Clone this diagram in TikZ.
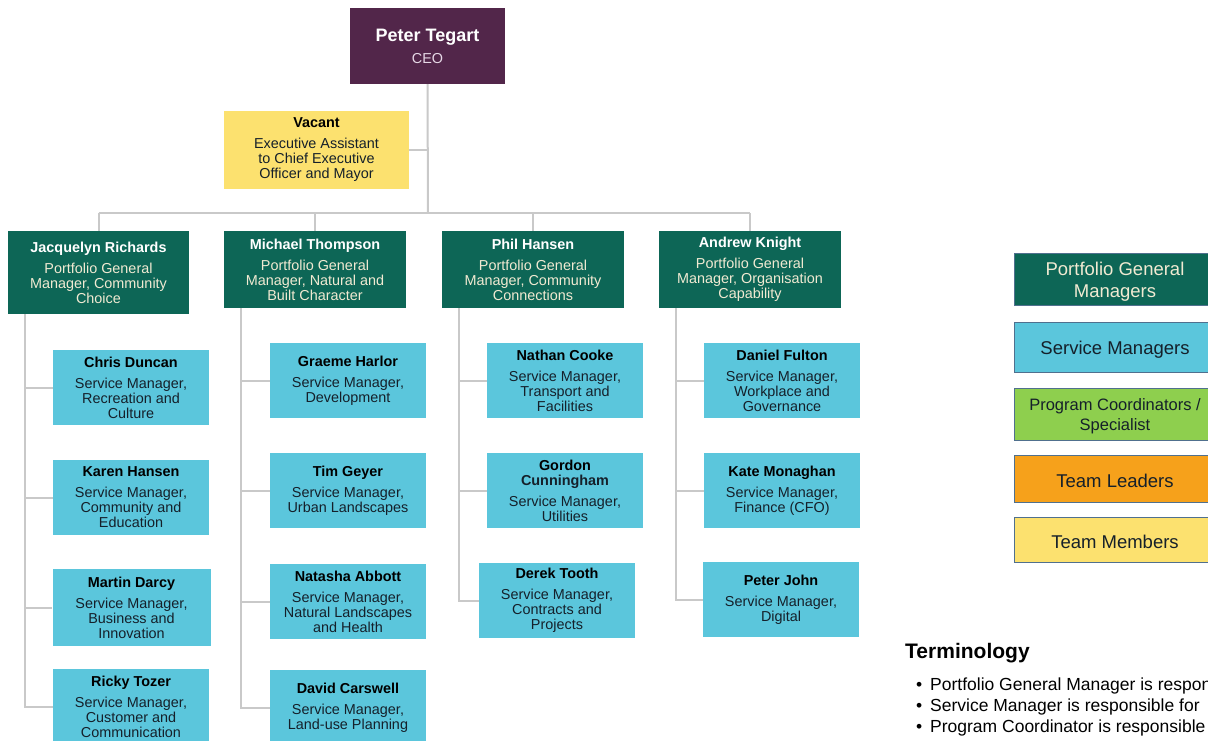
\documentclass[tikz,border=0pt]{standalone}
\usepackage{fontspec}
\setmainfont{Liberation Sans}
\definecolor{ceoc}{HTML}{52264A}
\definecolor{pgmc}{HTML}{0D6656}
\definecolor{smc}{HTML}{5BC6DC}
\definecolor{yelc}{HTML}{FCE16F}
\definecolor{pcc}{HTML}{8ECF4E}
\definecolor{tlc}{HTML}{F6A11B}
\definecolor{linec}{HTML}{C9C9C9}
\definecolor{cream}{HTML}{F1EAD2}
\definecolor{lav}{HTML}{E6D8E6}
\definecolor{smtext}{HTML}{15202A}
\definecolor{legbord}{HTML}{50708E}
\newcommand\nm[1]{\textbf{#1}}
\tikzset{
  bx/.style 2 args={rectangle, minimum width=#1, minimum height=#2, inner sep=0pt, align=center, anchor=center,
    font=\fontsize{14.4}{15}\selectfont},
  ceobox/.style={fill=ceoc, text=lav},
  pgmbox/.style={fill=pgmc, text=cream},
  smbox/.style={fill=smc, text=smtext},
  vacbox/.style={fill=yelc, text=smtext},
  conn/.style={draw=linec, line width=2pt},
  legbox/.style={rectangle, minimum width=202, inner sep=0pt, anchor=center, draw=legbord, line width=1pt},
  legtext/.style={inner sep=0pt, align=center, anchor=center, font=\fontsize{18.5}{22}\selectfont},
}
\begin{document}
\begin{tikzpicture}[x=1pt,y=-1pt]
\useasboundingbox (0,0) rectangle (1208,740);
\clip (0,0) rectangle (1208,740);
\fill[white] (0,0) rectangle (1208,740);

% top
\node[bx={155}{76}, ceobox] (ceo) at (427.5,46) {{\fontsize{18}{20}\selectfont\color{white}\nm{Peter Tegart}}\\[7pt]CEO};
\node[bx={185}{78}, vacbox] (vac) at (316.5,150) {\color{black}\nm{Vacant}\\[6pt]Executive Assistant\\to Chief Executive\\Officer and Mayor};

% portfolio general managers
\node[bx={181}{83}, pgmbox] (jr) at (98.5,272.5) {\color{white}\nm{Jacquelyn Richards}\\[6pt]Portfolio General\\Manager, Community\\Choice};
\node[bx={182}{77}, pgmbox] (mt) at (315,269.5) {\color{white}\nm{Michael Thompson}\\[6pt]Portfolio General\\Manager, Natural and\\Built Character};
\node[bx={182}{77}, pgmbox] (ph) at (533,269.5) {\color{white}\nm{Phil Hansen}\\[6pt]Portfolio General\\Manager, Community\\Connections};
\node[bx={182}{77}, pgmbox] (ak) at (750,269.5) {\color{white}\nm{Andrew Knight}\\[6pt]Portfolio General\\Manager, Organisation\\Capability};

% column 1
\node[bx={156}{75}, smbox] (cd) at (131,387.5) {\color{black}\nm{Chris Duncan}\\[6pt]Service Manager,\\Recreation and\\Culture};
\node[bx={156}{75}, smbox] (kh) at (131,497.5) {\color{black}\nm{Karen Hansen}\\[6pt]Service Manager,\\Community and\\Education};
\node[bx={158}{77}, smbox] (md) at (131.5,607.5) {\color{black}\nm{Martin Darcy}\\[6pt]Service Manager,\\Business and\\Innovation};
\node[bx={156}{75}, smbox] (rt) at (131,706.5) {\color{black}\nm{Ricky Tozer}\\[6pt]Service Manager,\\Customer and\\Communication};

% column 2
\node[bx={156}{75}, smbox] (gh) at (348,380.5) {\color{black}\nm{Graeme Harlor}\\[6pt]Service Manager,\\Development};
\node[bx={156}{75}, smbox] (tg) at (348,490.5) {\color{black}\nm{Tim Geyer}\\[6pt]Service Manager,\\Urban Landscapes};
\node[bx={156}{75}, smbox] (na) at (348,601.5) {\color{black}\nm{Natasha Abbott}\\[6pt]Service Manager,\\Natural Landscapes\\and Health};
\node[bx={156}{75}, smbox] (dc) at (348,707.5) {\color{black}\nm{David Carswell}\\[6pt]Service Manager,\\Land-use Planning};

% column 3
\node[bx={156}{75}, smbox] (nc) at (565,380.5) {\color{black}\nm{Nathan Cooke}\\[6pt]Service Manager,\\Transport and\\Facilities};
\node[bx={156}{75}, smbox] (gc) at (565,490.5) {\color{black}\nm{Gordon}\\\nm{Cunningham}\\[6pt]Service Manager,\\Utilities};
\node[bx={156}{75}, smbox] (dt) at (557,600.5) {\color{black}\nm{Derek Tooth}\\[6pt]Service Manager,\\Contracts and\\Projects};

% column 4
\node[bx={156}{75}, smbox] (df) at (782,380.5) {\color{black}\nm{Daniel Fulton}\\[6pt]Service Manager,\\Workplace and\\Governance};
\node[bx={156}{75}, smbox] (km) at (782,490.5) {\color{black}\nm{Kate Monaghan}\\[6pt]Service Manager,\\Finance (CFO)};
\node[bx={156}{75}, smbox] (pj) at (781,599.5) {\color{black}\nm{Peter John}\\[6pt]Service Manager,\\Digital};

% connectors
\coordinate (hbar) at (428,213);
\draw[conn] (ceo.south) -- (hbar);
\draw[conn] (vac.east) -- (vac.east -| ceo.south);
\draw[conn] (jr.north |- hbar) -- (ak.north |- hbar);
\foreach \p in {jr,mt,ph,ak} { \draw[conn] (\p.north |- hbar) -- (\p.north); }
\foreach \p/\c in {jr/cd,jr/kh,jr/md,jr/rt,mt/gh,mt/tg,mt/na,mt/dc,ph/nc,ph/gc,ph/dt,ak/df,ak/km,ak/pj} {
  \draw[conn] ([xshift=17pt]\p.south west) |- (\c.west);
}

% legend
\node[legbox, minimum height=52, fill=pgmc] (lpgm) at (1115,279) {};
\node[legtext, text=cream] (lpgmt) at ([yshift=-3pt]lpgm.center) {Portfolio General\\Managers};
\node[legbox, minimum height=50, fill=smc] (lsm) at (1115,347.5) {};
\node[legtext, text=smtext] (lsmt) at ([yshift=-2pt]lsm.center) {Service Managers};
\node[legbox, minimum height=52, fill=pcc] (lpc) at (1115,414) {};
\node[legtext, text=smtext, font=\fontsize{16.5}{20}\selectfont] (lpct) at ([yshift=-2.5pt]lpc.center) {Program Coordinators /\\Specialist};
\node[legbox, minimum height=47, fill=tlc] (ltl) at (1115,478.5) {};
\node[legtext, text=smtext] (ltlt) at ([yshift=-2pt]ltl.center) {Team Leaders};
\node[legbox, minimum height=45, fill=yelc] (ltm) at (1115,539.5) {};
\node[legtext, text=smtext] (ltmt) at ([yshift=-2pt]ltm.center) {Team Members};

% terminology
\node[anchor=base west, inner sep=0pt, font=\fontsize{21}{24}\selectfont\bfseries] (term) at (905,658) {Terminology};
\node[anchor=base west, inner sep=0pt, font=\fontsize{17.5}{21}\selectfont] (t1) at (916,690) {\makebox[14pt][l]{•}Portfolio General Manager is responsible};
\node[anchor=base west, inner sep=0pt, font=\fontsize{17.5}{21}\selectfont] (t2) at (916,711) {\makebox[14pt][l]{•}Service Manager is responsible for};
\node[anchor=base west, inner sep=0pt, font=\fontsize{17.5}{21}\selectfont] (t3) at (916,732) {\makebox[14pt][l]{•}Program Coordinator is responsible};
\end{tikzpicture}
\end{document}
